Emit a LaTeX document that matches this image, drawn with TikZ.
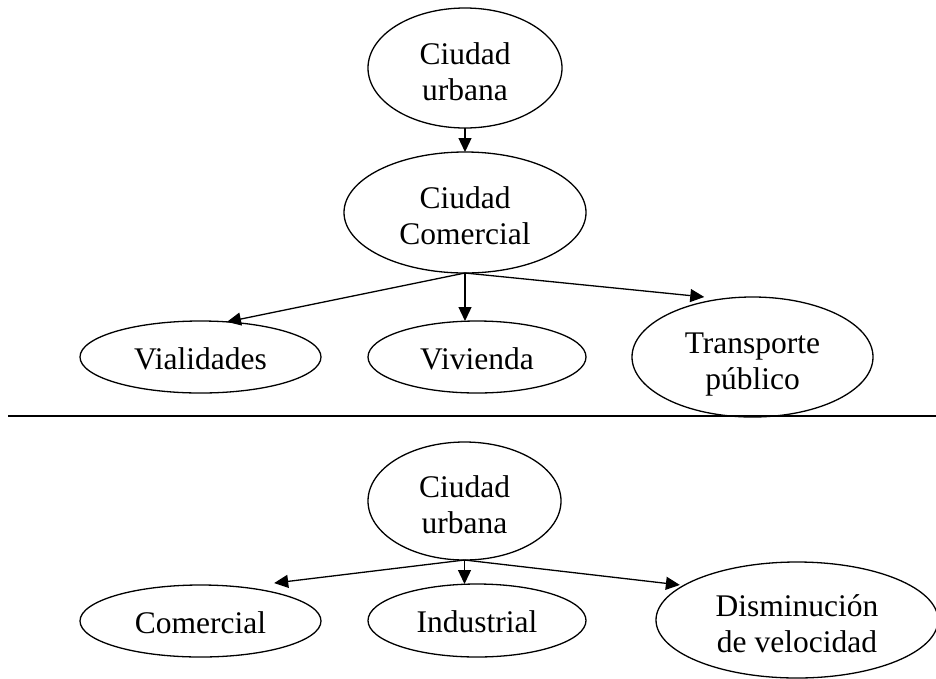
\documentclass[tikz,border=0pt]{standalone}
\usepackage{fontspec}
\setmainfont{Liberation Serif}
\usetikzlibrary{shapes.geometric,arrows.meta}

\tikzset{
  bubble/.style={draw, ellipse, line width=1.3pt, inner sep=0pt, outer sep=0pt,
    align=center, font=\fontsize{31.5pt}{36pt}\selectfont},
  oneline/.style={bubble, text height=24pt, text depth=0pt},
  twoline/.style={bubble, text height=64pt, text depth=0pt},
  link/.style={line width=1.3pt, -{Triangle[length=14pt,width=13pt]}},
  divider/.style={line width=2pt}
}

\begin{document}
\begin{tikzpicture}[x=1pt,y=-1pt]
  \useasboundingbox (0,0) rectangle (936,678);
  \clip (0,0) rectangle (936,678);

  % upper tree
  \node[twoline, minimum width=194pt, minimum height=120pt] (cu1) at (465,68) {Ciudad\\urbana};
  \node[twoline, minimum width=242pt, minimum height=121pt] (cc) at (465,212.5) {Ciudad\\Comercial};
  \node[oneline, minimum width=241pt, minimum height=72pt] (vial) at (200.5,357) {Vialidades};
  \node[oneline, minimum width=218pt, minimum height=72pt] (viv) at (477,357) {Vivienda};
  \node[twoline, minimum width=241pt, minimum height=120pt] (tp) at (752.5,357) {Transporte\\público};

  \draw[link] (cu1.south) -- (cc.north);
  \draw[link] (cc.south) -- (vial.53.9);
  \draw[link] (cc.south) -- (cc.south |- viv.north);
  \draw[link, shorten >=18.7pt] (cc.south) -- (tp.117.2);

  % separating rule
  \coordinate (divL) at (8,416);
  \coordinate (divR) at (936,416);
  \draw[divider] (divL) -- (divR);

  % lower tree
  \node[twoline, minimum width=193pt, minimum height=118pt] (cu2) at (464.5,501) {Ciudad\\urbana};
  \node[oneline, minimum width=241pt, minimum height=72pt] (com) at (200.5,621) {Comercial};
  \node[oneline, minimum width=218pt, minimum height=73pt] (ind) at (477,620.5) {Industrial};
  \node[twoline, minimum width=282pt, minimum height=116pt] (dis) at (797,620) {Disminución\\de velocidad};

  \draw[link, shorten >=33.5pt] (cu2.south) -- (com.40.9);
  \draw[link] (cu2.south) -- (cu2.south |- ind.north);
  \draw[link, shorten >=4pt] (cu2.south) -- (dis.163);
\end{tikzpicture}
\end{document}
